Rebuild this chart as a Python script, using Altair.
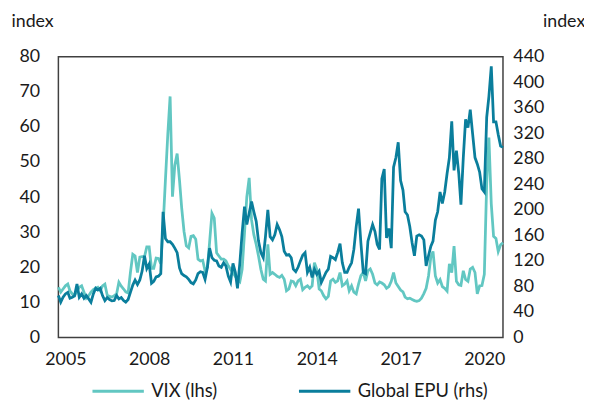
import altair as alt
import pandas as pd

# ---- data (monthly) ----
start_month = "2004-10-01"

vix = [14.3, 12.9, 13.8, 14.7, 15.2, 13.3, 12.4, 11.9, 13.3, 14.3, 14.7, 12.9, 11.2, 11.9, 12.9, 13.6,
       14.0, 14.3, 13.3, 14.7, 15.2, 12.1, 11.7, 11.5, 11.9, 12.4, 15.7, 14.6, 13.8, 13.0, 12.7, 18.5, 23.7,
       23.2, 18.5, 22.9, 23.0, 23.0, 25.8, 25.8, 19.7, 19.7, 22.6, 22.5, 21.0, 31.6, 45.0, 58.0, 68.7,
       40.1, 49.0, 52.4, 44.8, 37.0, 30.2, 26.1, 25.5, 28.8, 29.0, 28.0, 22.3, 21.8, 22.0, 19.0, 20.0,
       27.0, 35.4,
       34.0, 24.1, 23.2, 22.3,
       22.3, 21.8, 20.4, 19.4, 18.5, 17.4, 16.6, 15.9, 19.4, 29.8, 40.1, 45.5, 33.5, 29.3, 26.5, 23.2,
       19.4, 16.6, 16.1, 26.5, 18.0, 18.5, 18.0, 17.4, 17.1, 17.7, 16.6, 13.3,
       13.8, 16.1, 15.9, 14.7, 16.1, 16.6, 13.6, 14.3, 14.7, 14.0, 14.7, 21.3, 19.4, 13.8, 13.3, 11.9,
       11.0, 11.7, 16.1, 16.6, 15.7, 16.1, 18.5, 14.7, 15.2, 16.1, 13.3, 14.7, 12.9, 12.4, 15.2, 17.6,
       18.5, 16.1,
       19.0, 19.5, 18.0, 15.5, 15.0, 15.8, 15.5, 15.0, 14.0, 14.5, 16.0, 18.5, 15.5, 14.5, 13.5, 13.0,
       11.5, 11.0, 11.2, 10.8, 10.5, 10.3, 10.5, 11.2, 12.5, 14.0, 17.5, 23.0, 24.5, 17.5, 15.5, 16.5,
       14.5,
       14.0, 13.2, 21.0, 18.5, 26.0, 16.0, 15.0, 14.8, 19.0, 16.5, 16.0, 19.5, 20.0, 18.5, 12.4, 14.7,
       14.8, 18.0, 44.0, 57.0, 38.0, 28.8, 28.2, 24.5, 26.4, 27.0]

epu = [65.6, 55.2, 63.0, 68.2, 70.7, 61.4, 63.0, 65.6, 83.6, 63.0, 68.2, 61.4, 65.6, 60.4, 55.2, 68.2,
       77.0, 74.4, 77.0, 65.6, 57.8, 62.5, 59.4, 57.3, 57.8, 65.6, 60.4, 62.5, 57.8, 55.2, 59.4, 70.7, 82.1,
       90, 83, 90, 104, 128, 108, 115, 85, 88, 95, 96, 100, 197, 155, 150, 150,
       146, 140, 133, 109, 100, 97, 95, 91, 86, 84, 90, 100, 103, 102, 91, 110,
       140, 125,
       121, 120, 112, 110,
       117, 112, 96, 87, 116, 102, 77, 117, 164, 205, 177, 195, 213, 197, 182, 151,
       133, 125, 158, 200, 158, 153, 161, 177, 169, 158, 135, 129,
       130, 125, 107, 103, 110, 120, 129, 133, 102, 110, 94, 107, 99, 104, 86, 94,
       102, 107, 127, 125, 122, 133, 147, 117, 102, 102, 110, 117, 138, 174, 202, 148,
       102, 100,
       151, 164, 177, 166, 146, 138, 249, 264, 156, 171, 140, 267, 282, 306, 246, 231,
       197, 192, 174, 148, 128, 159, 161, 159, 153, 112, 128, 143, 151, 184, 197, 228,
       210,
       228, 257, 282, 339, 262, 293, 257, 208, 282, 342, 329, 357, 319, 282, 272, 259,
       233, 228, 345, 378, 425, 338, 338, 318, 300, 298]

series_names = ["VIX (lhs)", "Global EPU (rhs)"]
series_colors = ["#62C7C2", "#0A7E9C"]
left_ticks = list(range(0, 81, 10))
right_ticks = list(range(0, 441, 40))
year_ticks = [2005, 2008, 2011, 2014, 2017, 2020]
axis_title = "index"

# ---- table ----
dates = pd.date_range(start_month, periods=len(vix), freq="MS")
df = pd.DataFrame({
    "date": list(dates) * 2,
    "value": vix + epu,
    "series": [series_names[0]] * len(vix) + [series_names[1]] * len(epu),
})

FONT = "Lato"
TXT = "#1a1a1a"

x_enc = alt.X(
    "date:T",
    scale=alt.Scale(domain=[alt.DateTime(year=dates[0].year, month=dates[0].month, date=1),
                            alt.DateTime(year=dates[-1].year, month=dates[-1].month, date=1)],
                    nice=False),
    axis=alt.Axis(values=[alt.DateTime(year=y, month=1, date=1) for y in year_ticks],
                  format="%Y", ticks=False, domain=False, grid=False,
                  labelFontSize=18, labelPadding=13, labelColor=TXT, title=None),
)

color_enc = alt.Color(
    "series:N",
    scale=alt.Scale(domain=series_names, range=series_colors),
    legend=alt.Legend(title=None, orient="none", legendX=33, legendY=311,
                      direction="horizontal", columns=2, symbolType="stroke",
                      symbolSize=2704, symbolStrokeWidth=3, labelFontSize=18.5,
                      labelOffset=6, columnPadding=76, labelLimit=0, padding=0,
                      labelColor=TXT),
)

base = alt.Chart(df)

left = base.transform_filter(alt.datum.series == series_names[0]).mark_line(strokeWidth=2.8).encode(
    x=x_enc,
    y=alt.Y("value:Q",
            scale=alt.Scale(domain=[0, 80], nice=False),
            axis=alt.Axis(values=left_ticks, title=axis_title, titleAngle=0, titleX=-48, titleY=-36,
                          titleAlign="left", titleBaseline="middle", titleFontSize=18,
                          titleFontWeight="normal", titleColor=TXT,
                          ticks=False, domain=False, grid=False, labelPadding=19,
                          labelFontSize=18, labelColor=TXT)),
    color=color_enc,
)

right = base.transform_filter(alt.datum.series == series_names[1]).mark_line(strokeWidth=2.8).encode(
    x=x_enc,
    y=alt.Y("value:Q",
            scale=alt.Scale(domain=[0, 440], nice=False),
            axis=alt.Axis(orient="right", values=right_ticks, title=axis_title, titleAngle=0,
                          titleX=40, titleY=-36, titleAlign="left", titleBaseline="middle",
                          titleFontSize=18, titleFontWeight="normal", titleColor=TXT,
                          ticks=False, domain=False, grid=False, labelPadding=10,
                          labelFontSize=18, labelColor=TXT)),
    color=color_enc,
)

chart = alt.layer(left, right).resolve_scale(y="independent").properties(
    width=450, height=284,
    autosize="none",
    padding={"left": 51, "top": 47, "right": 82, "bottom": 66},
).configure(font=FONT).configure_view(stroke="#404040", strokeWidth=1.5)

chart.save("out.html", embed_options={"renderer": "svg", "actions": False})
